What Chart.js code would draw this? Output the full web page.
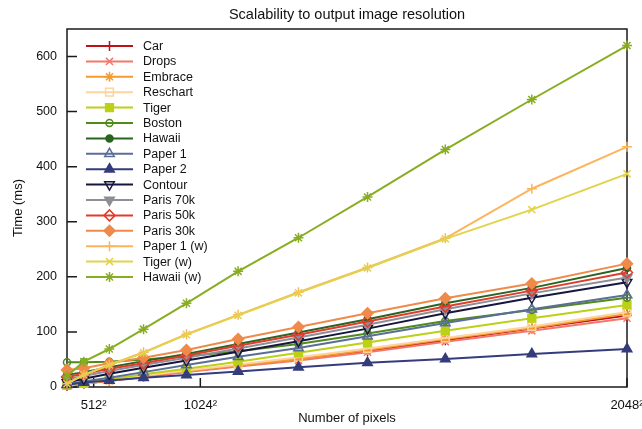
<!DOCTYPE html>
<html>
<head>
<meta charset="utf-8">
<script src="https://cdn.jsdelivr.net/npm/chart.js@4.4.1/dist/chart.umd.min.js"></script>
<style>
	html, body { margin: 0; padding: 0; background: #fff; }
	canvas { display: block; }
</style>
</head>
<body>
<canvas id="myChart" width="642" height="429"></canvas>
<script>
// pixel counts: 256^2 ... 2048^2 (11 resolutions)
var pixelCounts = [65536, 189399, 377487, 629800, 946339, 1327104, 1772093, 2281308, 2854748, 3492413, 4194304]
var xTickValues = [262144, 1048576, 4194304]
var xTickLabels = ['512²', '1024²', '2048²']
var yTickValues = [0, 100, 200, 300, 400, 500, 600]

var car = [2, 6, 12, 19, 28, 38, 50, 65, 85, 106, 130]
var drops = [2, 6, 11, 18, 27, 37, 48, 63, 82, 102, 125]
var embrace = [3, 7, 12, 20, 29, 39, 51, 67, 87, 107, 133]
var reschart = [3, 7, 13, 21, 30, 41, 54, 70, 89, 110, 136]
var tiger = [3, 8, 14, 23, 33, 46, 62, 81, 102, 125, 149]
var boston = [45, 45, 46, 50, 56, 65, 78, 97, 120, 140, 162]
var hawaii = [22, 27, 36, 47, 60, 78, 99, 123, 152, 180, 216]
var paper1 = [5, 10, 17, 27, 40, 55, 71, 92, 116, 141, 167]
var paper2 = [4, 8, 12, 17, 22, 28, 36, 44, 51, 60, 69]
var contour = [8, 15, 24, 35, 48, 64, 83, 106, 134, 162, 190]
var paris70k = [14, 20, 29, 40, 53, 70, 90, 113, 141, 170, 199]
var paris50k = [18, 24, 33, 43, 57, 75, 95, 119, 146, 175, 208]
var paris30k = [31, 34, 43, 53, 67, 87, 109, 134, 161, 188, 224]
var paper1w = [6, 22, 40, 63, 96, 131, 172, 217, 270, 360, 436]
var tigerw = [6, 22, 40, 62, 95, 130, 171, 216, 269, 322, 387]
var hawaiiw = [20, 46, 69, 105, 152, 210, 271, 345, 431, 522, 620]

var FONT = "'Liberation Sans', Arial, sans-serif"

function series (label, values, color, style, filled, radius, rotation) {
	return {
		label: label,
		data: values.map((v, i) => ({ x: pixelCounts[i], y: v })),
		borderColor: color,
		backgroundColor: color,
		borderWidth: 2,
		pointStyle: style,
		pointRadius: radius,
		pointRotation: rotation || 0,
		pointBorderWidth: 1.5,
		pointBorderColor: color,
		pointBackgroundColor: filled ? color : 'rgba(255,255,255,0)',
		clip: false
	}
}

var datasets = [
	series('Car', car, '#c0101a', 'cross', false, 5),
	series('Drops', drops, '#f4776b', 'crossRot', false, 5),
	series('Embrace', embrace, '#f59a2c', 'star', false, 5),
	series('Reschart', reschart, '#fdd49e', 'rect', false, 5.5),
	series('Tiger', tiger, '#bcd016', 'rect', true, 5.5),
	series('Boston', boston, '#4f8a1b', 'circle', false, 3.5),
	series('Hawaii', hawaii, '#2a6322', 'circle', true, 3.5),
	series('Paper 1', paper1, '#5a6e96', 'triangle', false, 5.5),
	series('Paper 2', paper2, '#353c7c', 'triangle', true, 5.5),
	series('Contour', contour, '#16163f', 'triangle', false, 5.5, 180),
	series('Paris 70k', paris70k, '#8e8e96', 'triangle', true, 5.5, 180),
	series('Paris 50k', paris50k, '#df3c2c', 'rectRot', false, 5.5),
	series('Paris 30k', paris30k, '#ef8a4a', 'rectRot', true, 5.5),
	series('Paper 1 (w)', paper1w, '#fbb55c', 'cross', false, 5),
	series('Tiger (w)', tigerw, '#e2d24c', 'crossRot', false, 5),
	series('Hawaii (w)', hawaiiw, '#88ad20', 'star', false, 5)
]
// gnuplot draws later series on top
datasets.forEach((ds, i) => { ds.order = -i })

var frameTicks = {
	id: 'frameTicks',
	beforeDatasetsDraw (chart) {
		var ctx = chart.ctx
		var a = chart.chartArea
		var xs = chart.scales.x
		var ys = chart.scales.y
		ctx.save()
		ctx.strokeStyle = '#1a1a1a'
		ctx.lineWidth = 1.5
		ctx.strokeRect(a.left, a.top, a.right - a.left, a.bottom - a.top)
		ctx.beginPath()
		ys.ticks.forEach(t => {
			var py = ys.getPixelForValue(t.value)
			ctx.moveTo(a.left, py)
			ctx.lineTo(a.left + 10, py)
		})
		xs.ticks.forEach(t => {
			var px = xs.getPixelForValue(t.value)
			ctx.moveTo(px, a.bottom)
			ctx.lineTo(px, a.bottom - 9)
		})
		ctx.stroke()
		ctx.restore()
	}
}

var lineLegend = {
	id: 'lineLegend',
	afterDraw (chart) {
		var ctx = chart.ctx
		var a = chart.chartArea
		chart.data.datasets.forEach((ds, i) => {
			var y = a.top + 17 + i * 15.4
			var x0 = a.left + 19
			var x1 = a.left + 66
			ctx.save()
			ctx.strokeStyle = ds.borderColor
			ctx.lineWidth = ds.borderWidth
			ctx.beginPath()
			ctx.moveTo(x0, y)
			ctx.lineTo(x1, y)
			ctx.stroke()
			ctx.fillStyle = ds.pointBackgroundColor
			ctx.lineWidth = ds.pointBorderWidth
			Chart.helpers.drawPoint(ctx, {
				pointStyle: ds.pointStyle,
				rotation: ds.pointRotation,
				radius: ds.pointRadius,
				borderWidth: ds.pointBorderWidth
			}, (x0 + x1) / 2, y)
			ctx.fillStyle = '#111'
			ctx.font = '12.5px ' + FONT
			ctx.textBaseline = 'middle'
			ctx.textAlign = 'left'
			ctx.fillText(ds.label, x1 + 10, y + 0.5)
			ctx.restore()
		})
	}
}

var ctx = document.getElementById('myChart').getContext('2d')
var myChart = new Chart(ctx, {
	type: 'line',
	data: { datasets: datasets },
	plugins: [frameTicks, lineLegend],
	options: {
		responsive: false,
		animation: false,
		events: [],
		layout: { padding: { left: 0, right: 15, top: 0, bottom: 0 } },
		plugins: {
			legend: { display: false },
			tooltip: { enabled: false },
			title: {
				display: true,
				text: 'Scalability to output image resolution',
				color: '#111',
				fullSize: false,
				font: { family: FONT, size: 14.5, weight: 'normal' },
				padding: { top: 6.5, bottom: 5.1 }
			}
		},
		scales: {
			x: {
				type: 'linear',
				min: pixelCounts[0],
				max: pixelCounts[pixelCounts.length - 1],
				afterBuildTicks: (scale) => {
					scale.ticks = xTickValues.map(v => ({ value: v }))
				},
				afterFit: (scale) => {
					scale.height = 42
					scale.paddingLeft = 0
					scale.paddingRight = 0
				},
				grid: { display: false },
				border: { display: false },
				ticks: {
					color: '#111',
					padding: 3,
					maxRotation: 0,
					autoSkip: false,
					font: { family: FONT, size: 13 },
					callback: (value) => xTickLabels[xTickValues.indexOf(value)]
				},
				title: {
					display: true,
					text: 'Number of pixels',
					color: '#111',
					font: { family: FONT, size: 13 },
					padding: { top: 0, bottom: 2.5 }
				}
			},
			y: {
				min: 0,
				max: 650,
				afterBuildTicks: (scale) => {
					scale.ticks = yTickValues.map(v => ({ value: v }))
				},
				afterFit: (scale) => {
					scale.width = 67
					scale.paddingTop = 0
					scale.paddingBottom = 0
				},
				grid: { display: false },
				border: { display: false },
				ticks: {
					color: '#111',
					padding: 2,
					font: { family: FONT, size: 12.5 }
				},
				title: {
					display: true,
					text: 'Time (ms)',
					color: '#111',
					font: { family: FONT, size: 13 },
					padding: { top: 11, bottom: 0 }
				}
			}
		}
	}
})
</script>
</body>
</html>
